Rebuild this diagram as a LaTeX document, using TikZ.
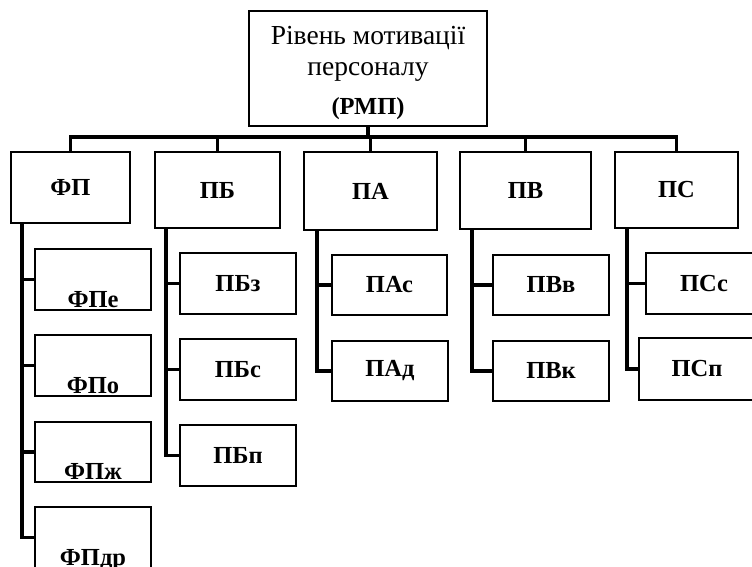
\documentclass[tikz,border=0pt]{standalone}
\usepackage{fontspec}
\setmainfont{Liberation Serif}

\begin{document}
\begin{tikzpicture}[x=1pt,y=-1pt,
    box/.style={draw,line width=1.8pt,inner sep=0pt,font=\fontsize{24.5}{28}\selectfont\bfseries},
    top/.style={box,minimum width=238pt,minimum height=115pt,align=center,
      font=\fontsize{27.5}{31}\selectfont},
    lvl/.style={box,minimum height=76pt},
    kid/.style={box,minimum width=116pt,minimum height=61pt},
    low/.style={label={[anchor=base,yshift=3pt,font=\fontsize{24.5}{28}\selectfont\bfseries]south:#1}},
    link/.style={line width=3.8pt}]
  \useasboundingbox (0,0) rectangle (752,567);
  \clip (0,0) rectangle (752,567);
  % top: the whole level
  \node[top] (rmp) at (368,68.5)
    {\rule{0pt}{27pt}Рівень мотивації\\персоналу\\[8pt]{\fontsize{24.5}{28}\selectfont\bfseries (РМП)}};
  % first row
  \node[lvl,minimum width=119pt,minimum height=71pt] (fp) at (70.5,187.5) {ФП};
  \node[lvl,minimum width=125pt] (pb) at (217.5,190) {ПБ};
  \node[lvl,minimum width=133pt,minimum height=78pt] (pa) at (370.5,191) {ПА};
  \node[lvl,minimum width=131pt,minimum height=77pt] (pv) at (525.5,190.5) {ПВ};
  \node[lvl,minimum width=123pt] (ps) at (676.5,190) {ПС};
  % bus under the top box
  \coordinate (bus) at (368,137);
  \draw[link] (rmp.south) -- (bus);
  \draw[link] (fp.north) |- (bus) -| (ps.north);
  \draw[link] (pb.north) -- (pb.north |- bus);
  \draw[link] (pa.north) -- (pa.north |- bus);
  \draw[link] (pv.north) -- (pv.north |- bus);
  % FP column (labels sit on the bottom edge)
  \node[kid,low=ФПе] (fpe) at (93,279.5) {};
  \node[kid,low=ФПо] (fpo) at (93,365.5) {};
  \node[kid,minimum height=60pt,low=ФПж] (fpzh) at (93,452) {};
  \node[kid,low=ФПдр] (fpdr) at (93,537.5) {};
  \draw[link] ([xshift=12pt]fp.south west) |- (fpdr.west);
  \foreach \k in {fpe,fpo,fpzh}
    \draw[link] ([xshift=12pt]fp.south west |- \k.west) -- (\k.west);
  % PB column
  \node[kid] (pbz) at (238,283.5) {ПБз};
  \node[kid] (pbs) at (238,369.5) {ПБс};
  \node[kid] (pbp) at (238,455.5) {ПБп};
  \draw[link] ([xshift=12pt]pb.south west) |- (pbp.west);
  \foreach \k in {pbz,pbs}
    \draw[link] ([xshift=12pt]pb.south west |- \k.west) -- (\k.west);
  % PA column
  \node[kid,minimum width=115pt,minimum height=60pt] (pas) at (389.5,285) {ПАс};
  \node[kid,minimum height=60pt] (pad) at (390,371) {ПАд};
  \draw[link] ([xshift=14pt]pa.south west) |- (pad.west);
  \draw[link] ([xshift=14pt]pa.south west |- pas.west) -- (pas.west);
  % PV column
  \node[kid,minimum height=60pt] (pvv) at (551,285) {ПВв};
  \node[kid,minimum height=60pt] (pvk) at (551,371) {ПВк};
  \draw[link] ([xshift=13pt]pv.south west) |- (pvk.west);
  \draw[link] ([xshift=13pt]pv.south west |- pvv.west) -- (pvv.west);
  % PS column
  \node[kid] (pss) at (704,283.5) {ПСс};
  \node[kid,minimum height=62pt] (psp) at (697,369) {ПСп};
  \draw[link] ([xshift=13pt]ps.south west) |- (psp.west);
  \draw[link] ([xshift=13pt]ps.south west |- pss.west) -- (pss.west);
\end{tikzpicture}
\end{document}
